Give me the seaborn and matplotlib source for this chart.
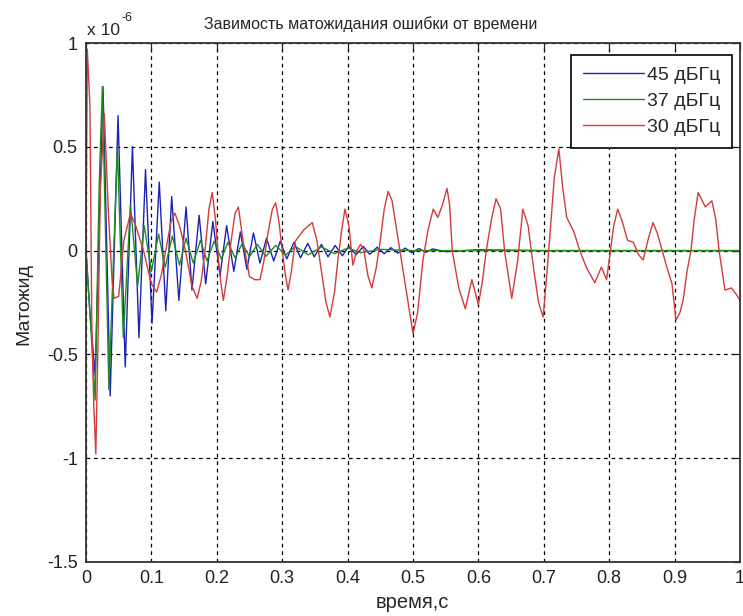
import matplotlib
matplotlib.use("Agg")
import matplotlib.pyplot as plt
import numpy as np
import pandas as pd
import seaborn as sns

# ---------------- data (values in units of 1e-6) ----------------
series_names = ["45 дБГц", "37 дБГц", "30 дБГц"]
series_colors = ["#1c22b4", "#1e8c1e", "#d23c3c"]

t45 = [0.0, 0.006, 0.014, 0.026, 0.037, 0.049, 0.060, 0.071, 0.081, 0.091,
       0.101, 0.112, 0.122, 0.131, 0.142, 0.153, 0.162, 0.173, 0.183, 0.194,
       0.205, 0.215, 0.226, 0.236, 0.246, 0.256, 0.266, 0.276, 0.287, 0.297,
       0.307, 0.318, 0.328, 0.339, 0.349, 0.360, 0.370, 0.381, 0.392, 0.402,
       0.413, 0.424, 0.434, 0.445, 0.456, 0.466, 0.477, 0.488, 0.498, 0.509,
       0.520, 0.530, 0.550, 0.600, 0.700, 1.0]
v45 = [0.0, -0.30, -0.60, 0.79, -0.70, 0.65, -0.56, 0.50, -0.42, 0.39,
       -0.35, 0.33, -0.29, 0.26, -0.24, 0.21, -0.19, 0.17, -0.16, 0.14,
       -0.12, 0.12, -0.10, 0.09, -0.09, 0.085, -0.06, 0.06, -0.05, 0.045,
       -0.04, 0.04, -0.035, 0.035, -0.03, 0.03, -0.03, 0.025, -0.025, 0.022,
       -0.02, 0.02, -0.018, 0.016, -0.015, 0.014, -0.012, 0.012, -0.01, 0.01,
       -0.008, 0.008, -0.005, 0.004, 0.0, 0.0]

t37 = [0.0, 0.007, 0.014, 0.020, 0.025, 0.035, 0.048, 0.057, 0.068, 0.079,
       0.089, 0.100, 0.111, 0.121, 0.132, 0.143, 0.153, 0.164, 0.175, 0.185,
       0.196, 0.207, 0.217, 0.228, 0.239, 0.250, 0.262, 0.275, 0.290, 0.305,
       0.320, 0.340, 0.360, 0.380, 0.400, 0.420, 0.450, 0.500, 1.0]
v37 = [0.0, -0.35, -0.72, 0.30, 0.79, -0.67, 0.50, -0.42, 0.22, -0.17,
       0.12, -0.10, 0.08, -0.08, 0.07, -0.07, 0.06, -0.06, 0.05, -0.05,
       0.045, -0.04, 0.04, -0.035, 0.035, -0.03, 0.03, -0.028, 0.025, -0.022,
       0.02, -0.02, 0.018, -0.015, 0.012, -0.01, 0.006, 0.0, 0.0]

t30 = [0.0, 0.002, 0.006, 0.009, 0.012, 0.015, 0.018, 0.022, 0.028, 0.034,
       0.040, 0.043, 0.050, 0.058, 0.068, 0.076, 0.088, 0.100, 0.108, 0.115,
       0.122, 0.130, 0.136, 0.143, 0.152, 0.162, 0.170, 0.176, 0.182, 0.188,
       0.193, 0.198, 0.204, 0.210, 0.216, 0.222, 0.228, 0.233, 0.240, 0.250,
       0.258, 0.266, 0.272, 0.278, 0.285, 0.290, 0.295, 0.300, 0.305, 0.309,
       0.314, 0.320, 0.333, 0.346, 0.353, 0.360, 0.367, 0.373, 0.380, 0.385,
       0.391, 0.396, 0.402, 0.408, 0.414, 0.420, 0.425, 0.431, 0.437, 0.444,
       0.450, 0.456, 0.462, 0.468, 0.474, 0.480, 0.490, 0.500, 0.507, 0.515,
       0.523, 0.531, 0.538, 0.545, 0.552, 0.556, 0.560, 0.570, 0.580, 0.590,
       0.600, 0.606, 0.612, 0.620, 0.627, 0.634, 0.640, 0.651, 0.660, 0.668,
       0.676, 0.685, 0.692, 0.699, 0.705, 0.710, 0.716, 0.723, 0.729, 0.735,
       0.746, 0.755, 0.765, 0.778, 0.788, 0.796, 0.802, 0.807, 0.813, 0.820,
       0.828, 0.837, 0.845, 0.852, 0.860, 0.867, 0.874, 0.881, 0.890, 0.896,
       0.902, 0.908, 0.913, 0.919, 0.925, 0.930, 0.936, 0.947, 0.957, 0.963,
       0.968, 0.977, 0.987, 0.994, 1.0]
v30 = [0.0, 0.97, 0.70, -0.40, -0.75, -0.98, -0.50, 0.30, 0.66, 0.20,
       -0.15, -0.23, -0.22, 0.05, 0.18, 0.12, 0.0, -0.16, -0.20, -0.12,
       0.0, 0.14, 0.18, 0.12, 0.0, -0.17, -0.23, -0.15, 0.0, 0.20,
       0.28, 0.15, -0.10, -0.24, -0.12, 0.05, 0.18, 0.21, 0.05, -0.125,
       -0.14, -0.14, -0.05, 0.08, 0.20, 0.23, 0.14, 0.0, -0.12, -0.19,
       -0.10, 0.045, 0.10, 0.135, 0.05, -0.10, -0.25, -0.32, -0.20, -0.05,
       0.10, 0.20, 0.12, -0.07, 0.0, 0.03, 0.0, -0.12, -0.18, -0.08,
       0.05, 0.20, 0.285, 0.24, 0.12, 0.0, -0.20, -0.40, -0.30, -0.05,
       0.10, 0.20, 0.16, 0.22, 0.30, 0.22, 0.0, -0.18, -0.28, -0.14,
       -0.26, -0.15, 0.0, 0.15, 0.25, 0.20, 0.0, -0.23, -0.05, 0.20,
       0.12, -0.10, -0.25, -0.32, -0.10, 0.10, 0.35, 0.49, 0.30, 0.16,
       0.09, 0.0, -0.08, -0.155, -0.08, -0.14, 0.0, 0.12, 0.20, 0.14,
       0.05, 0.04, -0.02, -0.045, 0.06, 0.135, 0.08, 0.0, -0.10, -0.16,
       -0.335, -0.30, -0.24, -0.10, 0.0, 0.15, 0.28, 0.21, 0.24, 0.15,
       0.0, -0.19, -0.18, -0.21, -0.24]

x_ticks = [0, 0.1, 0.2, 0.3, 0.4, 0.5, 0.6, 0.7, 0.8, 0.9, 1]
x_tick_labels = ["0", "0.1", "0.2", "0.3", "0.4", "0.5", "0.6", "0.7", "0.8", "0.9", "1"]
y_ticks = [-1.5, -1, -0.5, 0, 0.5, 1]
y_tick_labels = ["-1.5", "-1", "-0.5", "0", "0.5", "1"]

title_text = "Завимость матожидания ошибки от времени"
xlabel_text = "время,с"
ylabel_text = "Матожид"
offset_base = "x 10"
offset_exp = "-6"

# ---------------- build long table ----------------
frames = []
for name, t, v in zip(series_names, [t45, t37, t30], [v45, v37, v30]):
    frames.append(pd.DataFrame({"t": t, "v": v, "series": name}))
df = pd.concat(frames, ignore_index=True)

# ---------------- style ----------------
sns.set_style("white")
plt.rcParams["font.family"] = ["Liberation Sans", "DejaVu Sans"]

W, H = 743, 616
fig = plt.figure(figsize=(W / 100, H / 100), dpi=100)
fig.patch.set_facecolor("white")
ax = fig.add_axes([86 / W, 1 - 562 / H, (740 - 86) / W, (562 - 43) / H])

sns.lineplot(data=df, x="t", y="v", hue="series", hue_order=series_names,
             palette=dict(zip(series_names, series_colors)),
             estimator=None, sort=False, linewidth=1.0, ax=ax)

ax.set_xlim(0, 1)
ax.set_ylim(-1.5, 1)
ax.set_xticks(x_ticks)
ax.set_xticklabels(x_tick_labels)
ax.set_yticks(y_ticks)
ax.set_yticklabels(y_tick_labels)
ax.tick_params(direction="in", length=5, width=0.9, top=True, right=True,
               labelsize=13, colors="#222222", pad=6)
for s in ax.spines.values():
    s.set_visible(True)
    s.set_linewidth(1.3)
    s.set_color("#333333")

ax.grid(True, color="black", linestyle=(0, (3, 3)), linewidth=0.9)
ax.set_axisbelow(True)

ax.set_xlabel("")
ax.set_ylabel("")
fig.text(412 / W, 1 - 603 / H, xlabel_text, ha="center", va="center", fontsize=14.5)
fig.text(24 / W, 1 - 304 / H, ylabel_text, ha="center", va="center",
         rotation=90, fontsize=14)
fig.text(371 / W, 1 - 29 / H, title_text, ha="center", va="baseline", fontsize=11.5)
fig.text(87 / W, 1 - 35 / H, offset_base, ha="left", va="baseline", fontsize=12.5)
fig.text(121 / W, 1 - 21 / H, offset_exp, ha="left", va="baseline", fontsize=9)

handles, labels = ax.get_legend_handles_labels()
leg = ax.legend(handles, labels, loc="upper right",
                bbox_to_anchor=(732 / W, 1 - 55 / H), bbox_transform=fig.transFigure,
                borderaxespad=0, fontsize=14, frameon=True, fancybox=False,
                framealpha=1, edgecolor="black", handlelength=3.15,
                handletextpad=0.15, labelspacing=0.42, borderpad=0.6)
leg.get_frame().set_linewidth(1.2)

fig.savefig("out.png", dpi=100, facecolor="white")
